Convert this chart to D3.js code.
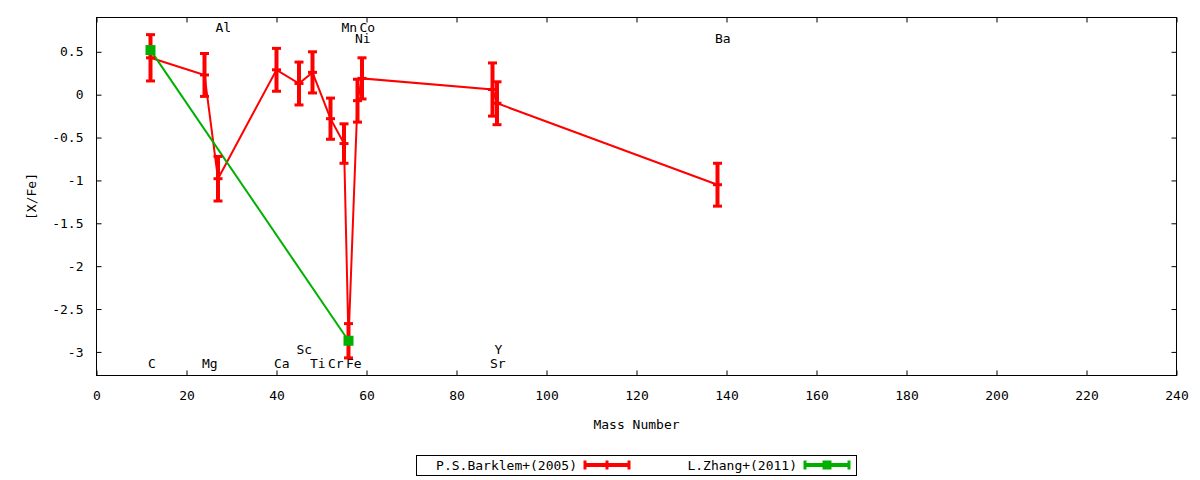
<!DOCTYPE html>
<html lang="en">
<head>
<meta charset="UTF-8">
<title>[X/Fe] vs Mass Number</title>
<script src="https://d3js.org/d3.v7.min.js"></script>
<style>
  body { margin: 0; background: #fff; }
  svg text { font-family: 'DejaVu Sans Mono', monospace; font-size: 13px; fill: #000; }
</style>
</head>
<body>
<div id="chart"></div>
<script>
// Barklem+(2005), ordered by mass number
var elements = ["C", "Mg", "Al", "Ca", "Sc", "Ti", "Cr", "Mn", "Fe", "Ni", "Co", "Sr", "Y", "Ba"];
var massNumbers = [12, 24, 27, 40, 45, 48, 52, 55, 56, 58, 59, 88, 89, 138];
var barklemVals = [0.43, 0.23, -0.98, 0.29, 0.13, 0.26, -0.28, -0.57, -2.87, -0.07, 0.19, 0.06, -0.10, -1.05];
var barklemErr = [0.27, 0.25, 0.26, 0.25, 0.25, 0.24, 0.24, 0.23, 0.20, 0.25, 0.24, 0.31, 0.25, 0.25];

// Zhang+(2011)
var zhangMass = [12, 56];
var zhangVals = [0.52, -2.87];

// element labels in the plot
var labelNames = ["C", "Mg", "Al", "Ca", "Sc", "Ti", "Cr", "Mn", "Fe", "Co", "Ni", "Sr", "Y", "Ba"];
var labelMass = [12, 24, 27, 40, 45, 48, 52, 55, 56, 59, 58, 88, 89, 138];
var labelY = [-3.14, -3.14, 0.78, -3.14, -2.97, -3.14, -3.14, 0.78, -3.14, 0.78, 0.66, -3.14, -2.97, 0.66];

var xTicks = [0, 20, 40, 60, 80, 100, 120, 140, 160, 180, 200, 220, 240];
var yTicks = [0.5, 0, -0.5, -1, -1.5, -2, -2.5, -3];

var red = "#ff0000", green = "#00b000";

var svg = d3.select("#chart").append("svg")
  .attr("width", 1200)
  .attr("height", 480);

var x = d3.scaleLinear().domain([0, 240]).range([96.5, 1176.5]);
var y = d3.scaleLinear().domain([-3.275, 0.9]).range([375.5, 17.5]);

// axes with mirrored inward ticks
svg.append("g")
  .attr("transform", "translate(0," + y.range()[0] + ")")
  .call(d3.axisBottom(x).tickValues(xTicks).tickSize(-5).tickPadding(15).tickFormat(function(d) { return d; }));
svg.append("g")
  .attr("transform", "translate(0," + y.range()[1] + ")")
  .call(d3.axisTop(x).tickValues(xTicks).tickSize(-5).tickFormat(""));
svg.append("g")
  .attr("transform", "translate(" + x.range()[0] + ",0)")
  .call(d3.axisLeft(y).tickValues(yTicks).tickSize(-5).tickPadding(13).tickFormat(function(d) { return String(d); }));
svg.append("g")
  .attr("transform", "translate(" + x.range()[1] + ",0)")
  .call(d3.axisRight(y).tickValues(yTicks).tickSize(-5).tickFormat(""));

svg.selectAll(".domain").remove();
svg.selectAll(".tick line").attr("stroke", "#000");
svg.selectAll(".tick text").style("font-family", "'DejaVu Sans Mono', monospace").style("font-size", "13px");

svg.append("rect")
  .attr("x", x.range()[0])
  .attr("y", y.range()[1])
  .attr("width", x.range()[1] - x.range()[0])
  .attr("height", y.range()[0] - y.range()[1])
  .attr("fill", "none")
  .attr("stroke", "#000");

// axis titles
svg.append("text")
  .attr("x", (x.range()[0] + x.range()[1]) / 2)
  .attr("y", 429)
  .attr("text-anchor", "middle")
  .text("Mass Number");

svg.append("text")
  .attr("transform", "translate(36," + ((y.range()[0] + y.range()[1]) / 2) + ") rotate(-90)")
  .attr("text-anchor", "middle")
  .text("[X/Fe]");

// element labels
svg.selectAll(".elabel")
  .data(labelNames)
  .enter().append("text")
  .attr("class", "elabel")
  .attr("x", function(d, i) { return x(labelMass[i]); })
  .attr("y", function(d, i) { return y(labelY[i]); })
  .attr("dx", -2.5)
  .attr("dy", "0.35em")
  .text(function(d) { return d; });

var plot = svg.append("g");

// Barklem line
var barklem = massNumbers.map(function(m, i) { return { m: m, v: barklemVals[i], e: barklemErr[i] }; });
var line = d3.line().x(function(d) { return x(d.m); }).y(function(d) { return y(d.v); });

plot.append("path")
  .datum(barklem)
  .attr("d", line)
  .attr("fill", "none")
  .attr("stroke", red)
  .attr("stroke-width", 2);

// Zhang line
var zhang = zhangMass.map(function(m, i) { return { m: m, v: zhangVals[i] }; });
plot.append("path")
  .datum(zhang)
  .attr("d", line)
  .attr("fill", "none")
  .attr("stroke", green)
  .attr("stroke-width", 2);

// error bars
var bars = plot.selectAll(".ebar").data(barklem).enter().append("g").attr("class", "ebar");
bars.append("line")
  .attr("x1", function(d) { return x(d.m); })
  .attr("x2", function(d) { return x(d.m); })
  .attr("y1", function(d) { return y(d.v + d.e); })
  .attr("y2", function(d) { return y(d.v - d.e); })
  .attr("stroke", red).attr("stroke-width", 4);
[1, -1, 0].forEach(function(s) {
  bars.append("line")
    .attr("x1", function(d) { return x(d.m) - 4.5; })
    .attr("x2", function(d) { return x(d.m) + 4.5; })
    .attr("y1", function(d) { return y(d.v + s * d.e); })
    .attr("y2", function(d) { return y(d.v + s * d.e); })
    .attr("stroke", red).attr("stroke-width", 3);
});

// Zhang points
plot.selectAll(".zpt").data(zhang).enter().append("rect")
  .attr("x", function(d) { return x(d.m) - 5; })
  .attr("y", function(d) { return y(d.v) - 5; })
  .attr("width", 10)
  .attr("height", 10)
  .attr("fill", green);

// legend
var lg = svg.append("g");
lg.append("rect")
  .attr("x", 416.5).attr("y", 455.5)
  .attr("width", 440).attr("height", 20)
  .attr("fill", "#fff").attr("stroke", "#000");

function legendEntry(textEnd, label, color, square) {
  var x0 = textEnd + 8, x1 = textEnd + 52, cy = 465;
  lg.append("text").attr("x", textEnd).attr("y", 470).attr("text-anchor", "end").text(label);
  lg.append("line").attr("x1", x0).attr("x2", x1).attr("y1", cy).attr("y2", cy)
    .attr("stroke", color).attr("stroke-width", 4);
  [x0, x1].forEach(function(cx) {
    lg.append("line").attr("x1", cx).attr("x2", cx).attr("y1", cy - 4.5).attr("y2", cy + 4.5)
      .attr("stroke", color).attr("stroke-width", 3);
  });
  var mid = (x0 + x1) / 2;
  if (square) {
    lg.append("rect").attr("x", mid - 4.5).attr("y", cy - 4.5).attr("width", 9).attr("height", 9).attr("fill", color);
  } else {
    lg.append("line").attr("x1", mid).attr("x2", mid).attr("y1", cy - 4.5).attr("y2", cy + 4.5)
      .attr("stroke", color).attr("stroke-width", 3);
  }
}
legendEntry(577, "P.S.Barklem+(2005)", red, false);
legendEntry(797, "L.Zhang+(2011)", green, true);
</script>
</body>
</html>
